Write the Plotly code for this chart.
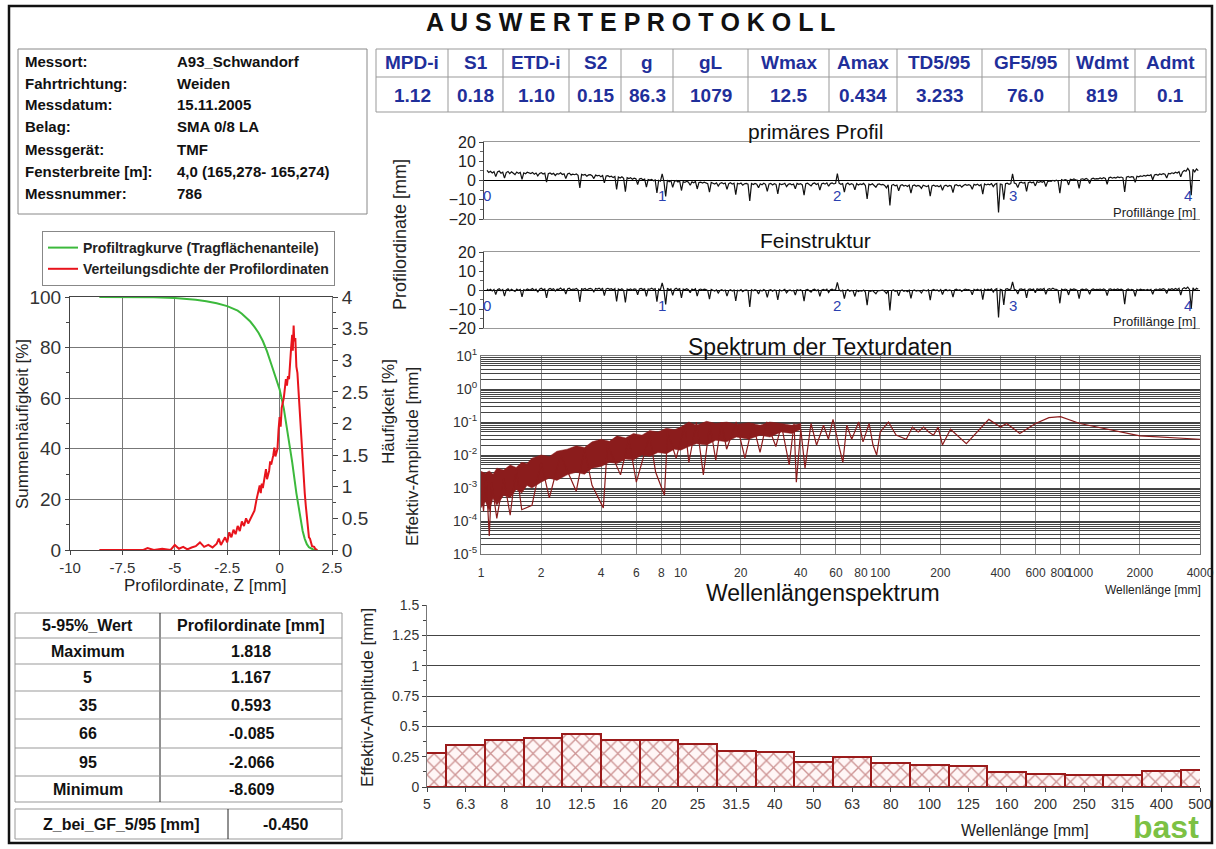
import plotly.graph_objects as go

W, H = 1216, 849
ARIAL = "Liberation Sans, Arial, sans-serif"
NARROW = "Liberation Sans Narrow, Arial Narrow, Liberation Sans, sans-serif"
BLUE = "#1f2f9a"
DARKRED = "#8b1c1c"

# ---- header data
info_labels = ["Messort:", "Fahrtrichtung:", "Messdatum:", "Belag:", "Messgerät:", "Fensterbreite [m]:", "Messnummer:"]
info_values = ["A93_Schwandorf", "Weiden", "15.11.2005", "SMA 0/8 LA", "TMF", "4,0 (165,278- 165,274)", "786"]

kenn_names = ["MPD-i", "S1", "ETD-i", "S2", "g", "gL", "Wmax", "Amax", "TD5/95", "GF5/95", "Wdmt", "Admt"]
kenn_values = ["1.12", "0.18", "1.10", "0.15", "86.3", "1079", "12.5", "0.434", "3.233", "76.0", "819", "0.1"]

quantil_head = ["5-95%_Wert", "Profilordinate [mm]"]
quantil_names = ["Maximum", "5", "35", "66", "95", "Minimum"]
quantil_values = ["1.818", "1.167", "0.593", "-0.085", "-2.066", "-8.609"]
z_gf_label = "Z_bei_GF_5/95 [mm]"
z_gf = "-0.450"

# ---- profiles (one value every 0.01 m)
profile_step = 0.01
primaer = [
	5.3, 4.2, 4.8, 3.9, 4.6, 2.0, 4.4, 4.9, 3.8, 4.3, 1.2, 4.1, 4.7, 3.6, 4.5, 4.0, 3.1, 4.4, 3.7, 4.2, 0.6, 4.0, 3.5, 4.3, 3.9,
	3.6, 4.2, 3.3, 3.9, 2.4, 3.7, 4.1, 3.4, 3.8, -0.8, 3.5, 3.9, 3.2, 3.7, 2.6, 3.6, 3.3, 4.0, 3.1, 3.5, 1.0, 3.4, 3.8, 2.9, 3.3,
	3.0, 3.4, 2.7, -3.9, 3.2, 2.8, 3.1, 2.2, 2.9, 3.0, 2.5, 1.0, 2.8, 2.4, 2.7, 2.0, 2.6, -1.2, 2.3, 2.5, 1.9, 2.2, 1.5, 2.1, -4.6,
	1.8, 1.3, 1.9, 1.1, -5.8, 1.5, 1.0, 1.4, 0.6, 1.2, 0.9, -2.1, 0.8, 1.1, 0.4, 0.7, -3.4, 0.5, 0.2, 0.6, -0.1, 0.3, -6.5, 0.1, -0.3,
	3.4, -0.4, -8.3, 0.2, -0.6, -0.1, -3.6, -0.5, 0.0, -0.8, -0.3, -5.2, -0.6, -1.0, -0.4, -0.9, -2.5, -0.7, -1.2, -0.5, -4.4, -1.0, -0.8, -1.3, -0.9,
	-1.1, -1.6, -6.1, -1.0, -1.4, -1.8, -1.2, -2.9, -1.5, -1.1, -1.7, -1.3, -4.6, -1.6, -1.2, -1.9, -1.4, -7.3, -1.5, -1.8, -1.3, -2.4, -1.7, -1.5, -1.9,
	-10.6, -1.6, -2.1, -1.5, -1.9, -3.8, -1.7, -2.2, -1.4, -2.0, -5.6, -1.8, -1.5, -2.3, -1.7, -2.0, -6.9, -1.6, -2.1, -1.9, -1.4, -3.2, -2.0, -1.7, -2.2,
	-1.8, -4.3, -1.5, -2.0, -1.6, -2.3, -7.6, -1.7, -1.4, -1.9, -2.8, -1.6, -1.3, -2.1, -1.5, -5.0, -1.8, -1.4, -1.9, -1.2, -3.0, -1.6, -1.3, -1.8, -1.5,
	3.6, -1.4, -2.0, -1.6, -6.1, -1.9, -1.3, -2.2, -1.7, -2.0, -4.9, -1.6, -2.3, -1.8, -2.1, -1.5, -2.6, -9.6, -1.9, -2.2, -1.7, -2.4, -3.5, -2.0, -1.8,
	-2.3, -2.0, -2.6, -3.8, -2.2, -12.9, -2.5, -2.1, -2.8, -2.4, -5.3, -2.6, -2.2, -2.9, -2.5, -3.1, -2.4, -6.6, -2.7, -2.3, -3.0, -2.6, -2.9, -4.1, -2.5,
	-2.9, -3.2, -2.6, -8.1, -2.8, -2.4, -3.0, -2.7, -3.3, -2.5, -5.1, -2.8, -2.4, -3.1, -2.6, -2.9, -6.3, -2.5, -2.2, -2.8, -2.4, -3.4, -2.6, -2.1, -2.5,
	-2.2, -2.6, -4.6, -2.0, -2.4, -1.9, -2.7, -2.1, -7.1, -1.8, -2.3, -1.9, -2.2, -1.6, -3.2, -1.9, -1.5, -16.6, -1.8, -2.1, -9.9, -1.7, -1.4, -2.0, -1.6,
	3.5, -1.3, -1.7, -3.7, -1.2, -0.9, -1.4, -1.0, -5.6, -1.1, -0.7, -1.2, -0.8, -2.8, -0.6, -1.0, -0.5, -0.9, -0.3, -3.1, -0.6, -0.2, -0.5, 0.1, -0.3,
	0.2, -0.3, -6.6, 0.4, 0.0, 0.5, 0.2, -2.3, 0.6, 0.3, 0.8, 0.4, 0.1, -4.1, 0.7, 0.9, 0.5, 1.1, 0.6, -1.6, 0.8, 1.2, 0.7, 1.0, 0.9,
	1.3, 0.9, 1.5, 1.1, -2.0, 1.4, 1.7, 1.2, 1.6, 1.3, 1.9, 1.5, 1.8, 1.4, -5.9, 1.7, 2.1, 1.6, 2.0, 1.8, -1.0, 2.2, 1.9, 2.4, 2.1,
	2.6, 2.3, 2.8, 2.5, 3.0, 0.4, 2.9, 3.2, 2.7, 3.4, 3.1, 3.6, 3.3, 1.3, 3.7, 3.5, 4.0, 3.6, 4.3, 3.9, 4.6, 1.9, 4.4, 5.2, 4.8,
	6.3, 4.9, -7.6, 5.8, 4.5, 6.0, 5.1,
]
fein = [
	0.6, -0.3, 0.4, -0.5, 0.3, -2.4, 0.2, 0.7, -0.4, 0.3, -3.2, 0.1, 0.6, -0.5, 0.4, 0.0, -0.8, 0.5, -0.2, 0.3, -3.6, 0.2, -0.3, 0.5, 0.1,
	0.2, 0.8, -0.2, 0.5, -1.2, 0.4, 0.9, 0.1, 0.6, -4.1, 0.3, 0.8, 0.2, 0.7, -0.6, 0.5, 0.3, 1.0, 0.1, 0.6, -2.2, 0.5, 0.9, 0.0, 0.5,
	0.3, 0.8, 0.1, -6.3, 0.7, 0.4, 0.8, -0.1, 0.6, 0.8, 0.4, -1.0, 0.8, 0.5, 0.9, 0.2, 0.8, -3.0, 0.6, 0.9, 0.4, 0.7, 0.0, 0.7, -6.0,
	0.5, 0.0, 0.7, -0.1, -6.6, 0.5, 0.1, 0.6, -0.1, 0.6, 0.4, -2.5, 0.5, 0.8, 0.2, 0.6, -3.4, 0.6, 0.4, 0.9, 0.3, 0.7, -6.1, 0.5, 0.2,
	3.8, 0.2, -7.6, 0.9, 0.1, 0.6, -2.8, 0.3, 0.9, 0.2, 0.7, -4.2, 0.5, 0.1, 0.7, 0.2, -1.4, 0.5, 0.0, 0.7, -3.2, 0.2, 0.5, 0.0, 0.4,
	0.2, -0.3, -4.8, 0.3, -0.1, -0.5, 0.1, -1.6, -0.2, 0.2, -0.4, 0.0, -3.2, -0.3, 0.2, -0.5, 0.0, -5.8, -0.1, -0.4, 0.2, -0.9, -0.2, 0.0, -0.4,
	-8.9, 0.1, -0.4, 0.2, -0.2, -2.1, 0.0, -0.5, 0.3, -0.3, -3.9, -0.1, 0.2, -0.6, 0.0, -0.3, -5.2, 0.1, -0.4, -0.2, 0.3, -1.5, -0.3, 0.0, -0.5,
	-0.1, -2.6, 0.2, -0.3, 0.1, -0.6, -5.9, 0.0, 0.3, -0.2, -1.1, 0.1, 0.4, -0.4, 0.2, -3.3, -0.1, 0.3, -0.2, 0.5, -1.3, 0.1, 0.4, -0.1, 0.2,
	4.0, 0.1, -0.5, -0.1, -4.6, -0.4, 0.2, -0.7, -0.2, -0.5, -3.4, -0.1, -0.8, -0.3, -0.6, 0.0, -1.1, -8.0, -0.4, -0.7, -0.2, -0.9, -2.0, -0.5, -0.3,
	-0.5, -0.1, -0.7, -1.8, -0.2, -10.8, -0.4, 0.0, -0.7, -0.3, -3.1, -0.4, 0.0, -0.7, -0.3, -0.9, -0.1, -4.4, -0.4, 0.0, -0.6, -0.2, -0.5, -1.6, 0.0,
	-0.2, -0.5, 0.1, -5.3, -0.1, 0.3, -0.3, 0.0, -0.6, 0.2, -2.4, -0.1, 0.3, -0.4, 0.1, -0.2, -3.7, 0.1, 0.4, -0.2, 0.2, -0.8, 0.0, 0.5, 0.1,
	0.2, -0.2, -2.5, 0.3, -0.1, 0.4, -0.3, 0.3, -5.1, 0.4, -0.1, 0.4, 0.0, 0.6, -1.1, 0.3, 0.7, -14.5, 0.3, 0.0, -7.9, 0.4, 0.7, 0.1, 0.5,
	4.3, 0.4, 0.0, -2.1, 0.4, 0.6, 0.1, 0.5, -4.2, 0.3, 0.6, 0.1, 0.5, -1.5, 0.6, 0.2, 0.6, 0.2, 0.8, -2.3, 0.3, 0.7, 0.3, 0.9, 0.4,
	0.3, -0.2, -7.0, 0.4, 0.0, 0.5, 0.1, -2.6, 0.5, 0.1, 0.6, 0.2, -0.2, -4.6, 0.3, 0.5, 0.0, 0.6, 0.1, -2.2, 0.2, 0.6, 0.1, 0.3, 0.2,
	0.5, 0.0, 0.6, 0.1, -3.0, 0.4, 0.6, 0.0, 0.4, 0.1, 0.6, 0.1, 0.4, 0.0, -7.4, 0.1, 0.5, -0.1, 0.3, 0.0, -3.3, 0.3, -0.1, 0.4, 0.1,
	0.2, -0.2, 0.3, -0.1, 0.4, -2.2, 0.2, 0.5, -0.1, 0.6, 0.2, 0.7, 0.3, -1.8, 0.5, 0.2, 0.7, 0.1, 0.8, 0.2, 0.9, -2.7, 0.6, 1.2, 0.7,
	1.5, 0.3, -9.8, 1.1, -0.2, 0.9, 0.4,
]
profile_ticks = [0, 1, 2, 3, 4]

# ---- Abbott curve / density
tragkurve_z = [-8.6, -7, -6, -5, -4.5, -4, -3.5, -3, -2.5, -2.2, -2.0, -1.8, -1.6, -1.4, -1.2, -1.0, -0.8, -0.6,
	-0.4, -0.2, 0.0, 0.2, 0.4, 0.6, 0.8, 1.0, 1.1, 1.2, 1.3, 1.4, 1.5, 1.6, 1.7, 1.8]
tragkurve_p = [100, 100, 99.9, 99.6, 99.3, 98.9, 98.3, 97.5, 96.4, 95.5, 94.6, 93.4, 92, 90.3, 88.2, 85.8, 82.6, 78.5,
	73.5, 68.5, 63.5, 56, 46, 34.7, 22.5, 11.5, 7.5, 4.4, 2.3, 1.1, 0.5, 0.2, 0.05, 0]

dichte_z = [-8.6, -7.5, -6.5, -6.3, -6.0, -5.6, -5.2, -5.0, -4.8, -4.6, -4.4, -4.2, -4.0, -3.8, -3.6, -3.4, -3.2,
	-3.0, -2.9, -2.8, -2.7, -2.6, -2.5, -2.4, -2.3, -2.2, -2.1, -2.0, -1.9, -1.8, -1.7, -1.6, -1.5, -1.4, -1.3,
	-1.2, -1.1, -1.0, -0.95, -0.9, -0.85, -0.8, -0.7, -0.65, -0.6, -0.5, -0.45, -0.4, -0.3, -0.25, -0.2, -0.1,
	-0.05, 0.0, 0.05, 0.1, 0.2, 0.25, 0.3, 0.35, 0.4, 0.45, 0.5, 0.55, 0.6, 0.63, 0.67, 0.7, 0.75, 0.8, 0.85,
	0.9, 1.0, 1.05, 1.1, 1.15, 1.2, 1.25, 1.3, 1.35, 1.4, 1.45, 1.5, 1.55, 1.65, 1.7, 1.8]
dichte_v = [0, 0, 0, 0.03, 0.0, 0.02, 0.0, 0.08, 0.02, 0.05, 0.01, 0.04, 0.06, 0.12, 0.05, 0.08, 0.04,
	0.1, 0.18, 0.08, 0.14, 0.2, 0.12, 0.28, 0.2, 0.32, 0.25, 0.38, 0.3, 0.45, 0.38, 0.5, 0.42, 0.48, 0.55,
	0.62, 0.8, 0.95, 1.02, 0.9, 1.05, 0.98, 1.18, 1.28, 1.12, 1.25, 1.4, 1.35, 1.5, 1.62, 1.48, 1.6,
	1.9, 2.1, 1.95, 2.25, 2.4, 2.55, 2.7, 2.6, 2.75, 2.7, 3.05, 3.2, 3.4, 3.15, 3.55, 3.3, 3.35, 2.9, 2.8,
	2.5, 2.1, 1.75, 1.5, 1.2, 0.9, 0.7, 0.5, 0.3, 0.2, 0.18, 0.12, 0.06, 0.05, 0.02, 0]

# ---- texture spectrum: dense band + individual peaks/dips
band_wl = [1, 1.05, 1.1, 1.15, 1.2, 1.3, 1.4, 1.5, 1.6, 1.7, 1.8, 2.0, 2.2, 2.4, 2.7, 3.0, 3.3, 3.6, 4.0, 4.4,
	4.8, 5.3, 5.8, 6.4, 7.0, 7.7, 8.5, 9.3, 10, 11, 12, 13.5, 15, 17, 19, 22, 25, 28, 32, 36, 40]
band_hi = [3.2e-3, 2.8e-3, 3.3e-3, 2.6e-3, 4e-3, 3.5e-3, 5e-3, 4.2e-3, 6e-3, 5.5e-3, 8e-3, 1e-2, 9e-3, 1.3e-2,
	1.5e-2, 1.9e-2, 1.7e-2, 2.5e-2, 3e-2, 2.6e-2, 3.8e-2, 3.3e-2, 4.5e-2, 4e-2, 5.5e-2, 5e-2, 6.5e-2, 5.8e-2,
	7e-2, 1e-1, 8e-2, 1.05e-1, 9e-2, 1e-1, 8.5e-2, 9.5e-2, 8e-2, 1e-1, 9e-2, 8e-2, 9e-2]
band_lo = [2.5e-4, 4e-4, 2e-4, 5e-4, 3e-4, 6e-4, 5e-4, 9e-4, 7e-4, 1.2e-3, 1e-3, 1.5e-3, 2e-3, 1.7e-3, 2.5e-3,
	3e-3, 2.6e-3, 4e-3, 4.5e-3, 6e-3, 5.5e-3, 7.5e-3, 7e-3, 1e-2, 9e-3, 1.2e-2, 1.1e-2, 1.5e-2, 1.4e-2, 1.8e-2,
	2.2e-2, 2e-2, 2.8e-2, 2.5e-2, 3.5e-2, 3e-2, 4e-2, 3.5e-2, 5e-2, 4.5e-2, 6e-2]

spek_wl = [1.0, 1.03, 1.06, 1.1, 1.13, 1.2, 1.3, 1.4, 1.5, 1.6, 1.8, 2.0, 2.2, 2.5, 3, 3.3, 3.6, 4.1, 4.3, 5,
	5.5, 6, 7, 7.5, 8.3, 8.6, 9.5, 10.5, 11, 12, 13, 14, 15, 16, 17, 19, 21, 23, 25, 27, 30, 32, 35, 37, 38,
	40, 42, 45, 48, 52, 55, 58, 62, 65, 68, 72, 78, 82, 88, 92, 96, 100, 110, 120, 135, 145, 155, 165, 175,
	185, 195, 205, 225, 270, 350, 400, 430, 500, 600, 700, 800, 1000, 2000, 4000]
spek_amp = [1e-3, 2e-4, 2.5e-3, 3.5e-5, 1.5e-3, 1.2e-4, 2e-3, 1.5e-4, 4e-3, 2.2e-4, 3e-4, 6e-3, 5e-4, 1e-2, 8e-4,
	1.5e-2, 1.2e-3, 2.5e-4, 2e-2, 2.5e-3, 3e-2, 1.5e-3, 4e-2, 3e-3, 6e-4, 5e-2, 8e-3, 8e-2, 6e-3, 1e-1, 2.5e-3,
	9e-2, 7e-3, 1e-1, 1.5e-2, 1e-1, 8e-3, 9e-2, 1.2e-2, 1e-1, 1.8e-2, 8e-2, 5e-3, 9e-2, 1.5e-3, 6e-2, 4e-3,
	9e-2, 2e-2, 8e-2, 3e-2, 1.2e-1, 2e-2, 6e-3, 8e-2, 3e-2, 1e-1, 2.5e-2, 9e-2, 2e-2, 1e-2, 5e-2, 1e-1, 4e-2,
	3e-2, 7e-2, 5e-2, 7e-2, 5e-2, 4e-2, 7e-2, 2e-2, 6e-2, 2.2e-2, 1.2e-1, 7e-2, 9e-2, 4.5e-2, 9e-2, 1.35e-1,
	1.45e-1, 9e-2, 3.8e-2, 3e-2]
spek_ticks = [1, 2, 4, 6, 8, 10, 20, 40, 60, 80, 100, 200, 400, 600, 800, 1000, 2000, 4000]

# ---- wavelength spectrum (third-octave bands)
terz_labels = ["5", "6.3", "8", "10", "12.5", "16", "20", "25", "31.5", "40", "50", "63", "80", "100", "125",
	"160", "200", "250", "315", "400", "500"]
terz_amp = [0.28, 0.35, 0.385, 0.40, 0.44, 0.39, 0.385, 0.355, 0.30, 0.285, 0.21, 0.245, 0.195, 0.18, 0.175,
	0.12, 0.105, 0.10, 0.10, 0.13, 0.14]


def px(x):
	return x / W

def py(y):
	return 1 - y / H

def note(text, x, y, size=15, color="#222", family=ARIAL, anchor="center", angle=0, ref=None):
	d = dict(text=text, x=px(x), y=py(y), xref="paper", yref="paper", showarrow=False,
		font=dict(size=size, color=color, family=family), xanchor=anchor, yanchor="middle", textangle=angle)
	if ref:
		d.update(x=x, y=y, xref=ref[0], yref=ref[1])
	return d

def line(x0, y0, x1, y1, color="#999", width=1):
	return dict(type="line", xref="paper", yref="paper", x0=px(x0), y0=py(y0), x1=px(x1), y1=py(y1),
		line=dict(color=color, width=width))

def box(x0, y0, x1, y1, color="#999", width=1):
	return dict(type="rect", xref="paper", yref="paper", x0=px(x0), y0=py(y1), x1=px(x1), y1=py(y0),
		line=dict(color=color, width=width))


fig = go.Figure()

# profiles
for i, (vals, top, bot) in enumerate([(primaer, 142, 219), (fein, 252, 328)]):
	n = str(i + 1) if i else ""
	fig.add_trace(go.Scatter(x0=0, dx=profile_step, y=vals, mode="lines", line=dict(color="#111", width=1.2),
		xaxis="x" + n, yaxis="y" + n, showlegend=False, hoverinfo="skip"))
	fig.update_layout(**{
		"xaxis" + n: dict(domain=[px(484), px(1200)], range=[-0.017, 4.07], anchor="y" + n, showticklabels=False,
			showgrid=False, showline=True, mirror=True, linecolor="#999", ticks="", zeroline=False, automargin=False),
		"yaxis" + n: dict(domain=[py(bot), py(top)], range=[-20, 20], anchor="x" + n, tickvals=[-20, -10, 0, 10, 20],
			ticks="outside", ticklen=4, showgrid=False, showline=True, linecolor="#444", zeroline=True,
			zerolinecolor="#000", zerolinewidth=1, tickfont=dict(size=16, family=NARROW, color="#222"),
			minor=dict(dtick=5, ticks="outside", ticklen=3, tickcolor="#666"), automargin=False),
	})

# spectrum
ytv, ytt = [], []
for k in range(-5, 2):
	for m in range(1, 10):
		if k == 1 and m > 1:
			break
		ytv.append(m * 10 ** k)
		ytt.append("10<sup>%d</sup>" % k if m == 1 else "")

fig.add_trace(go.Scatter(x=band_wl + band_wl[::-1], y=band_hi + band_lo[::-1], fill="toself", fillcolor=DARKRED,
	line=dict(width=0.5, color=DARKRED), mode="lines", xaxis="x3", yaxis="y3", showlegend=False, hoverinfo="skip"))
fig.add_trace(go.Scatter(x=spek_wl, y=spek_amp, mode="lines", line=dict(color=DARKRED, width=1.2),
	xaxis="x3", yaxis="y3", showlegend=False, hoverinfo="skip"))
fig.update_layout(
	xaxis3=dict(domain=[px(481), px(1200)], type="log", range=[0, 3.602], anchor="y3", tickvals=spek_ticks,
		ticktext=[str(t) for t in spek_ticks], tickangle=0, showgrid=True, gridcolor="#888", showline=True, mirror=True,
		linecolor="#777", ticks="", ticklabelstandoff=8, tickfont=dict(size=12, family=NARROW, color="#333"),
		automargin=False),
	yaxis3=dict(domain=[py(554), py(356)], type="log", range=[-5, 1], anchor="x3", tickvals=ytv, ticktext=ytt,
		showgrid=True, gridcolor="#444", gridwidth=1, showline=True, mirror=True, linecolor="#777", ticks="",
		tickfont=dict(size=14, family=NARROW, color="#333"), automargin=False),
)

# wavelength spectrum
fig.add_trace(go.Bar(x=terz_labels, y=terz_amp, width=1, xaxis="x4", yaxis="y4", showlegend=False,
	marker=dict(color="#fbeaea", line=dict(color="#9b1b1b", width=2),
		pattern=dict(shape="x", fgcolor="#9b3232", bgcolor="#fff6f6", size=10, solidity=0.25)),
	hoverinfo="skip"))
fig.update_layout(
	xaxis4=dict(domain=[px(427), px(1200)], type="category", range=[0, 20], anchor="y4", ticks="outside",
		ticklen=4, showgrid=False, showline=True, linecolor="#555", tickangle=0,
		tickfont=dict(size=14, family=NARROW, color="#333"), automargin=False),
	yaxis4=dict(domain=[py(787), py(605)], range=[0, 1.5], dtick=0.25, anchor="x4", showgrid=True,
		gridcolor="#444", showline=True, linecolor="#777", ticks="outside", ticklen=4, zeroline=False,
		tickfont=dict(size=14, family=NARROW, color="#333"), minor=dict(dtick=0.125, ticks="outside", ticklen=3),
		automargin=False),
	bargap=0,
)

# Abbott curve and density
fig.add_trace(go.Scatter(x=tragkurve_z, y=tragkurve_p, mode="lines", line=dict(color="#3cb93c", width=2),
	name="Profiltragkurve (Tragflächenanteile)", xaxis="x5", yaxis="y5", hoverinfo="skip"))
fig.add_trace(go.Scatter(x=dichte_z, y=dichte_v, mode="lines", line=dict(color="#e8141c", width=2),
	name="Verteilungsdichte der Profilordinaten", xaxis="x5", yaxis="y6", hoverinfo="skip"))
fig.update_layout(
	xaxis5=dict(domain=[px(70), px(332)], range=[-10, 2.5], anchor="y5", tickvals=[-10, -7.5, -5, -2.5, 0, 2.5],
		ticktext=["-10", "-7.5", "-5", "-2.5", "0", "2.5"], showgrid=True, gridcolor="#777", showline=True,
		mirror=True, linecolor="#444", ticks="outside", ticklen=4, zeroline=False, automargin=False,
		tickfont=dict(size=15, family=ARIAL, color="#333")),
	yaxis5=dict(domain=[py(550), py(297)], range=[0, 100], dtick=20, anchor="x5", showgrid=True, gridcolor="#777",
		showline=True, linecolor="#444", ticks="outside", ticklen=4, zeroline=False, automargin=False,
		tickfont=dict(size=19, family=ARIAL, color="#333"), minor=dict(dtick=10, ticks="outside", ticklen=3)),
	yaxis6=dict(range=[0, 4], dtick=0.5, overlaying="y5", side="right", anchor="x5", showgrid=False,
		showline=True, linecolor="#777", ticks="outside", ticklen=5, zeroline=False, automargin=False,
		tickfont=dict(size=19, family=ARIAL, color="#333"), minor=dict(dtick=0.25, ticks="outside", ticklen=3)),
	legend=dict(x=px(42), y=py(231), xanchor="left", yanchor="top", bgcolor="white", bordercolor="#888",
		borderwidth=1, font=dict(size=14, family=ARIAL, color="#222", weight="bold"), tracegroupgap=0,
		itemwidth=30),
)

# frames and table grids
shapes = [
	box(9, 6, 1212, 843, color="#111", width=2.5),
	box(18, 49, 367, 214, color="#888"),
]
anns = [note("<b>A U S W E R T E P R O T O K O L L</b>", 630, 22, size=25, color="#111")]

rows_y = [62, 83, 105, 127, 149, 171, 193]
for lab, val, y in zip(info_labels, info_values, rows_y):
	anns.append(note("<b>%s</b>" % lab, 23, y, size=15, color="#111", anchor="left"))
	anns.append(note("<b>%s</b>" % val, 175, y, size=15, color="#111", anchor="left"))

# parameter table
kcols = [376, 448, 503, 569, 621, 673, 748, 829, 897, 982, 1069, 1135, 1206]
krows = [49, 77, 112]
shapes.append(box(kcols[0], krows[0], kcols[-1], krows[-1]))
shapes.append(line(kcols[0], krows[1], kcols[-1], krows[1]))
for c in kcols[1:-1]:
	shapes.append(line(c, krows[0], c, krows[-1]))
for j, (name, val) in enumerate(zip(kenn_names, kenn_values)):
	xc = (kcols[j] + kcols[j + 1]) / 2
	anns.append(note("<b>%s</b>" % name, xc, 63, size=19, color=BLUE))
	anns.append(note("<b>%s</b>" % val, xc, 95, size=19, color=BLUE))

# quantile table
qcols = [15, 160, 342]
qrows = [613, 638, 664, 691, 719, 748, 776, 802]
shapes.append(box(qcols[0], qrows[0], qcols[-1], qrows[-1]))
shapes.append(line(qcols[1], qrows[0], qcols[1], qrows[-1], color="#222"))
for r in qrows[1:-1]:
	shapes.append(line(qcols[0], r, qcols[-1], r))
qtext = [quantil_head] + [[a, b] for a, b in zip(quantil_names, quantil_values)]
for j, (a, b) in enumerate(qtext):
	yc = (qrows[j] + qrows[j + 1]) / 2
	anns.append(note("<b>%s</b>" % a, (qcols[0] + qcols[1]) / 2, yc, size=16, color="#111"))
	anns.append(note("<b>%s</b>" % b, (qcols[1] + qcols[2]) / 2, yc, size=16, color="#111"))

shapes.append(box(15, 809, 342, 839))
shapes.append(line(228, 809, 228, 839, color="#222"))
anns.append(note("<b>%s</b>" % z_gf_label, 121, 824, size=16, color="#111"))
anns.append(note("<b>%s</b>" % z_gf, 285, 824, size=16, color="#111"))

anns += [
	note("primäres Profil", 815, 131, size=21, family=NARROW, color="#111"),
	note("Feinstruktur", 815, 240, size=21, family=NARROW, color="#111"),
	note("Spektrum der Texturdaten", 820, 347, size=23, family=NARROW, color="#111"),
	note("Wellenlängenspektrum", 823, 593, size=23, family=NARROW, color="#111"),
	note("Profilordinate [mm]", 400, 235, size=18, angle=-90),
	note("Häufigkeit [%]", 388, 412, size=17, angle=-90),
	note("Effektiv-Amplitude [mm]", 412, 457, size=17, angle=-90),
	note("Effektiv-Amplitude [mm]", 367, 697, size=17, angle=-90),
	note("Summenhäufigkeit [%]", 22, 424, size=17, angle=-90),
	note("Profilordinate, Z [mm]", 205, 585, size=17),
	note("Profillänge [m]", 1198, 212, size=13, family=NARROW, anchor="right"),
	note("Profillänge [m]", 1198, 321, size=13, family=NARROW, anchor="right"),
	note("Wellenlänge [mm]", 1203, 590, size=12, family=NARROW, anchor="right"),
	note("Wellenlänge [mm]", 1025, 830, size=16, family=NARROW),
	note("<b>bast</b>", 1166, 827, size=32, family=NARROW, color="#7cc144"),
]
for n in ["", "2"]:
	for t in profile_ticks:
		anns.append(note(str(t), t, -8, size=15, color="#2a3fb0", family=NARROW, ref=("x" + n, "y" + n)))

fig.update_layout(width=W, height=H, autosize=False, margin=dict(l=0, r=0, t=0, b=0, autoexpand=False),
	paper_bgcolor="white", plot_bgcolor="white", shapes=shapes, annotations=anns,
	font=dict(family=ARIAL))

# the page body has a default margin; drop it so the sheet sits at the window's corner
fig.write_html("out.html", config={"displayModeBar": False},
	post_script="document.body.style.margin='0px';")
